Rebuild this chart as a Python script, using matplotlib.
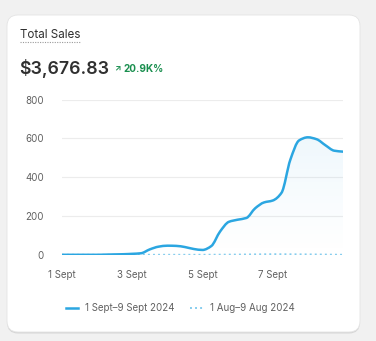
import matplotlib
matplotlib.use("Agg")
import matplotlib.pyplot as plt
import numpy as np
from matplotlib.patches import FancyBboxPatch, PathPatch
from matplotlib.lines import Line2D
from matplotlib.path import Path

plt.rcParams["font.family"] = ["Inter", "DejaVu Sans"]

# quarter-day readings, 1 Sept .. 9 Sept
day_steps = np.arange(0, 8.01, 0.25)
sales_sept = [0, 0, 0, 0, 0, 1, 2, 3, 5, 8, 28, 42, 47, 46, 40, 30,
              25, 45, 120, 170, 181, 190, 240, 270, 280, 320, 490, 590,
              606, 596, 565, 537, 532]
# daily readings, 1 Aug .. 9 Aug
days = np.arange(0, 9)
sales_aug = [0, 0, 0, 0, 0, 1, 3, 2, 0]

tick_pos = [0, 2, 4, 6]
tick_labels = ["1 Sept", "3 Sept", "5 Sept", "7 Sept"]
y_ticks = [0, 200, 400, 600, 800]

BLUE = "#2ba6e1"
LIGHT = "#86cdee"
GREY = "#616161"

W, H = 376, 341
fig = plt.figure(figsize=(W / 100, H / 100), dpi=100, facecolor="#f1f1f1")


def fx(px):
    return px / W


def fy(py):
    return 1 - py / H


def smooth_path(x, y):
    """Monotone cubic Bezier path through the points (like a chart's curve tension)."""
    x = np.asarray(x, float)
    y = np.asarray(y, float)
    h = np.diff(x)
    d = np.diff(y) / h
    m = np.zeros_like(y)
    m[0], m[-1] = d[0], d[-1]
    for i in range(1, len(y) - 1):
        if d[i - 1] * d[i] > 0:
            m[i] = 2 / (1 / d[i - 1] + 1 / d[i])
    verts = [(x[0], y[0])]
    codes = [Path.MOVETO]
    for i in range(len(x) - 1):
        verts += [(x[i] + h[i] / 3, y[i] + m[i] * h[i] / 3),
                  (x[i + 1] - h[i] / 3, y[i + 1] - m[i + 1] * h[i] / 3),
                  (x[i + 1], y[i + 1])]
        codes += [Path.CURVE4] * 3
    return verts, codes


# card with soft bottom shadow
shadow = FancyBboxPatch((0.07, 0.075), 3.53, 3.17, boxstyle="round,pad=0,rounding_size=0.11",
                        transform=fig.dpi_scale_trans, facecolor="#d6d6d6", edgecolor="none", zorder=-3)
card = FancyBboxPatch((0.07, 0.09), 3.53, 3.17, boxstyle="round,pad=0,rounding_size=0.11",
                      transform=fig.dpi_scale_trans, facecolor="white", edgecolor="#e4e4e4",
                      linewidth=0.6, zorder=-2)
fig.patches.extend([shadow, card])

fig.text(fx(20), fy(38.3), "Total Sales", fontsize=8.4, color="#303030", va="baseline")
fig.add_artist(Line2D([fx(20), fx(81)], [fy(41.8), fy(41.8)], color="#9a9a9a",
                      linestyle=(0, (1, 1.2)), linewidth=0.8))
fig.text(fx(19.5), fy(74.5), "$3,676.83", fontsize=12.8, fontweight="semibold", color="#303030", va="baseline")
fig.text(fx(114), fy(71.5), "↗", fontsize=6, fontweight="bold", color="#1a8f4f", va="baseline")
fig.text(fx(123), fy(71.5), "20.9K%", fontsize=7.2, fontweight="bold", color="#1a8f4f", va="baseline")

ax = fig.add_axes([fx(62), fy(254.8), fx(343) - fx(62), fy(99.7) - fy(254.8)])
ax.set_facecolor("none")

verts, codes = smooth_path(day_steps, sales_sept)
curve = Path(verts, codes)
area = Path(verts + [(day_steps[-1], 0), (day_steps[0], 0), (day_steps[0], 0)],
            codes + [Path.LINETO, Path.LINETO, Path.CLOSEPOLY])

# gradient fill under the current series
grad = np.linspace(0, 1, 256)
rgba = np.zeros((256, 1, 4))
rgba[..., :3] = matplotlib.colors.to_rgb("#7cc4ec")
rgba[:, 0, 3] = 0.13 * grad ** 1.2
img = ax.imshow(rgba, extent=[0, 8, 0, 620], origin="lower", aspect="auto", zorder=1)
img.set_clip_path(area, transform=ax.transData)

ax.plot(days, sales_aug, color=LIGHT, linewidth=1.4, linestyle=(0, (1, 1.6)), zorder=2)
ax.add_patch(PathPatch(curve, facecolor="none", edgecolor=BLUE, linewidth=1.8,
                       capstyle="round", joinstyle="round", zorder=3))
ax.set_xlim(0, 8)
ax.set_ylim(0, 800)

ax.set_yticks(y_ticks)
ax.set_xticks(tick_pos)
ax.set_xticklabels(tick_labels)
ax.grid(axis="y", color="#ececec", linewidth=0.8)
ax.set_axisbelow(True)
ax.tick_params(axis="y", length=0, pad=13, labelsize=7, labelcolor=GREY)
ax.tick_params(axis="x", length=0, pad=11, labelsize=7, labelcolor=GREY)
for s in ax.spines.values():
    s.set_visible(False)

handles = [Line2D([], [], color=BLUE, linewidth=1.8),
           Line2D([], [], color=LIGHT, linewidth=1.4, linestyle=(0, (1, 1.6)))]
fig.legend(handles, ["1 Sept–9 Sept 2024", "1 Aug–9 Aug 2024"], loc="center",
           bbox_to_anchor=(fx(180), fy(308)), ncol=2, frameon=False, fontsize=7,
           labelcolor=GREY, handlelength=1.3, handletextpad=0.7, columnspacing=1.6)

fig.savefig("out.png", dpi=100, facecolor=fig.get_facecolor())
